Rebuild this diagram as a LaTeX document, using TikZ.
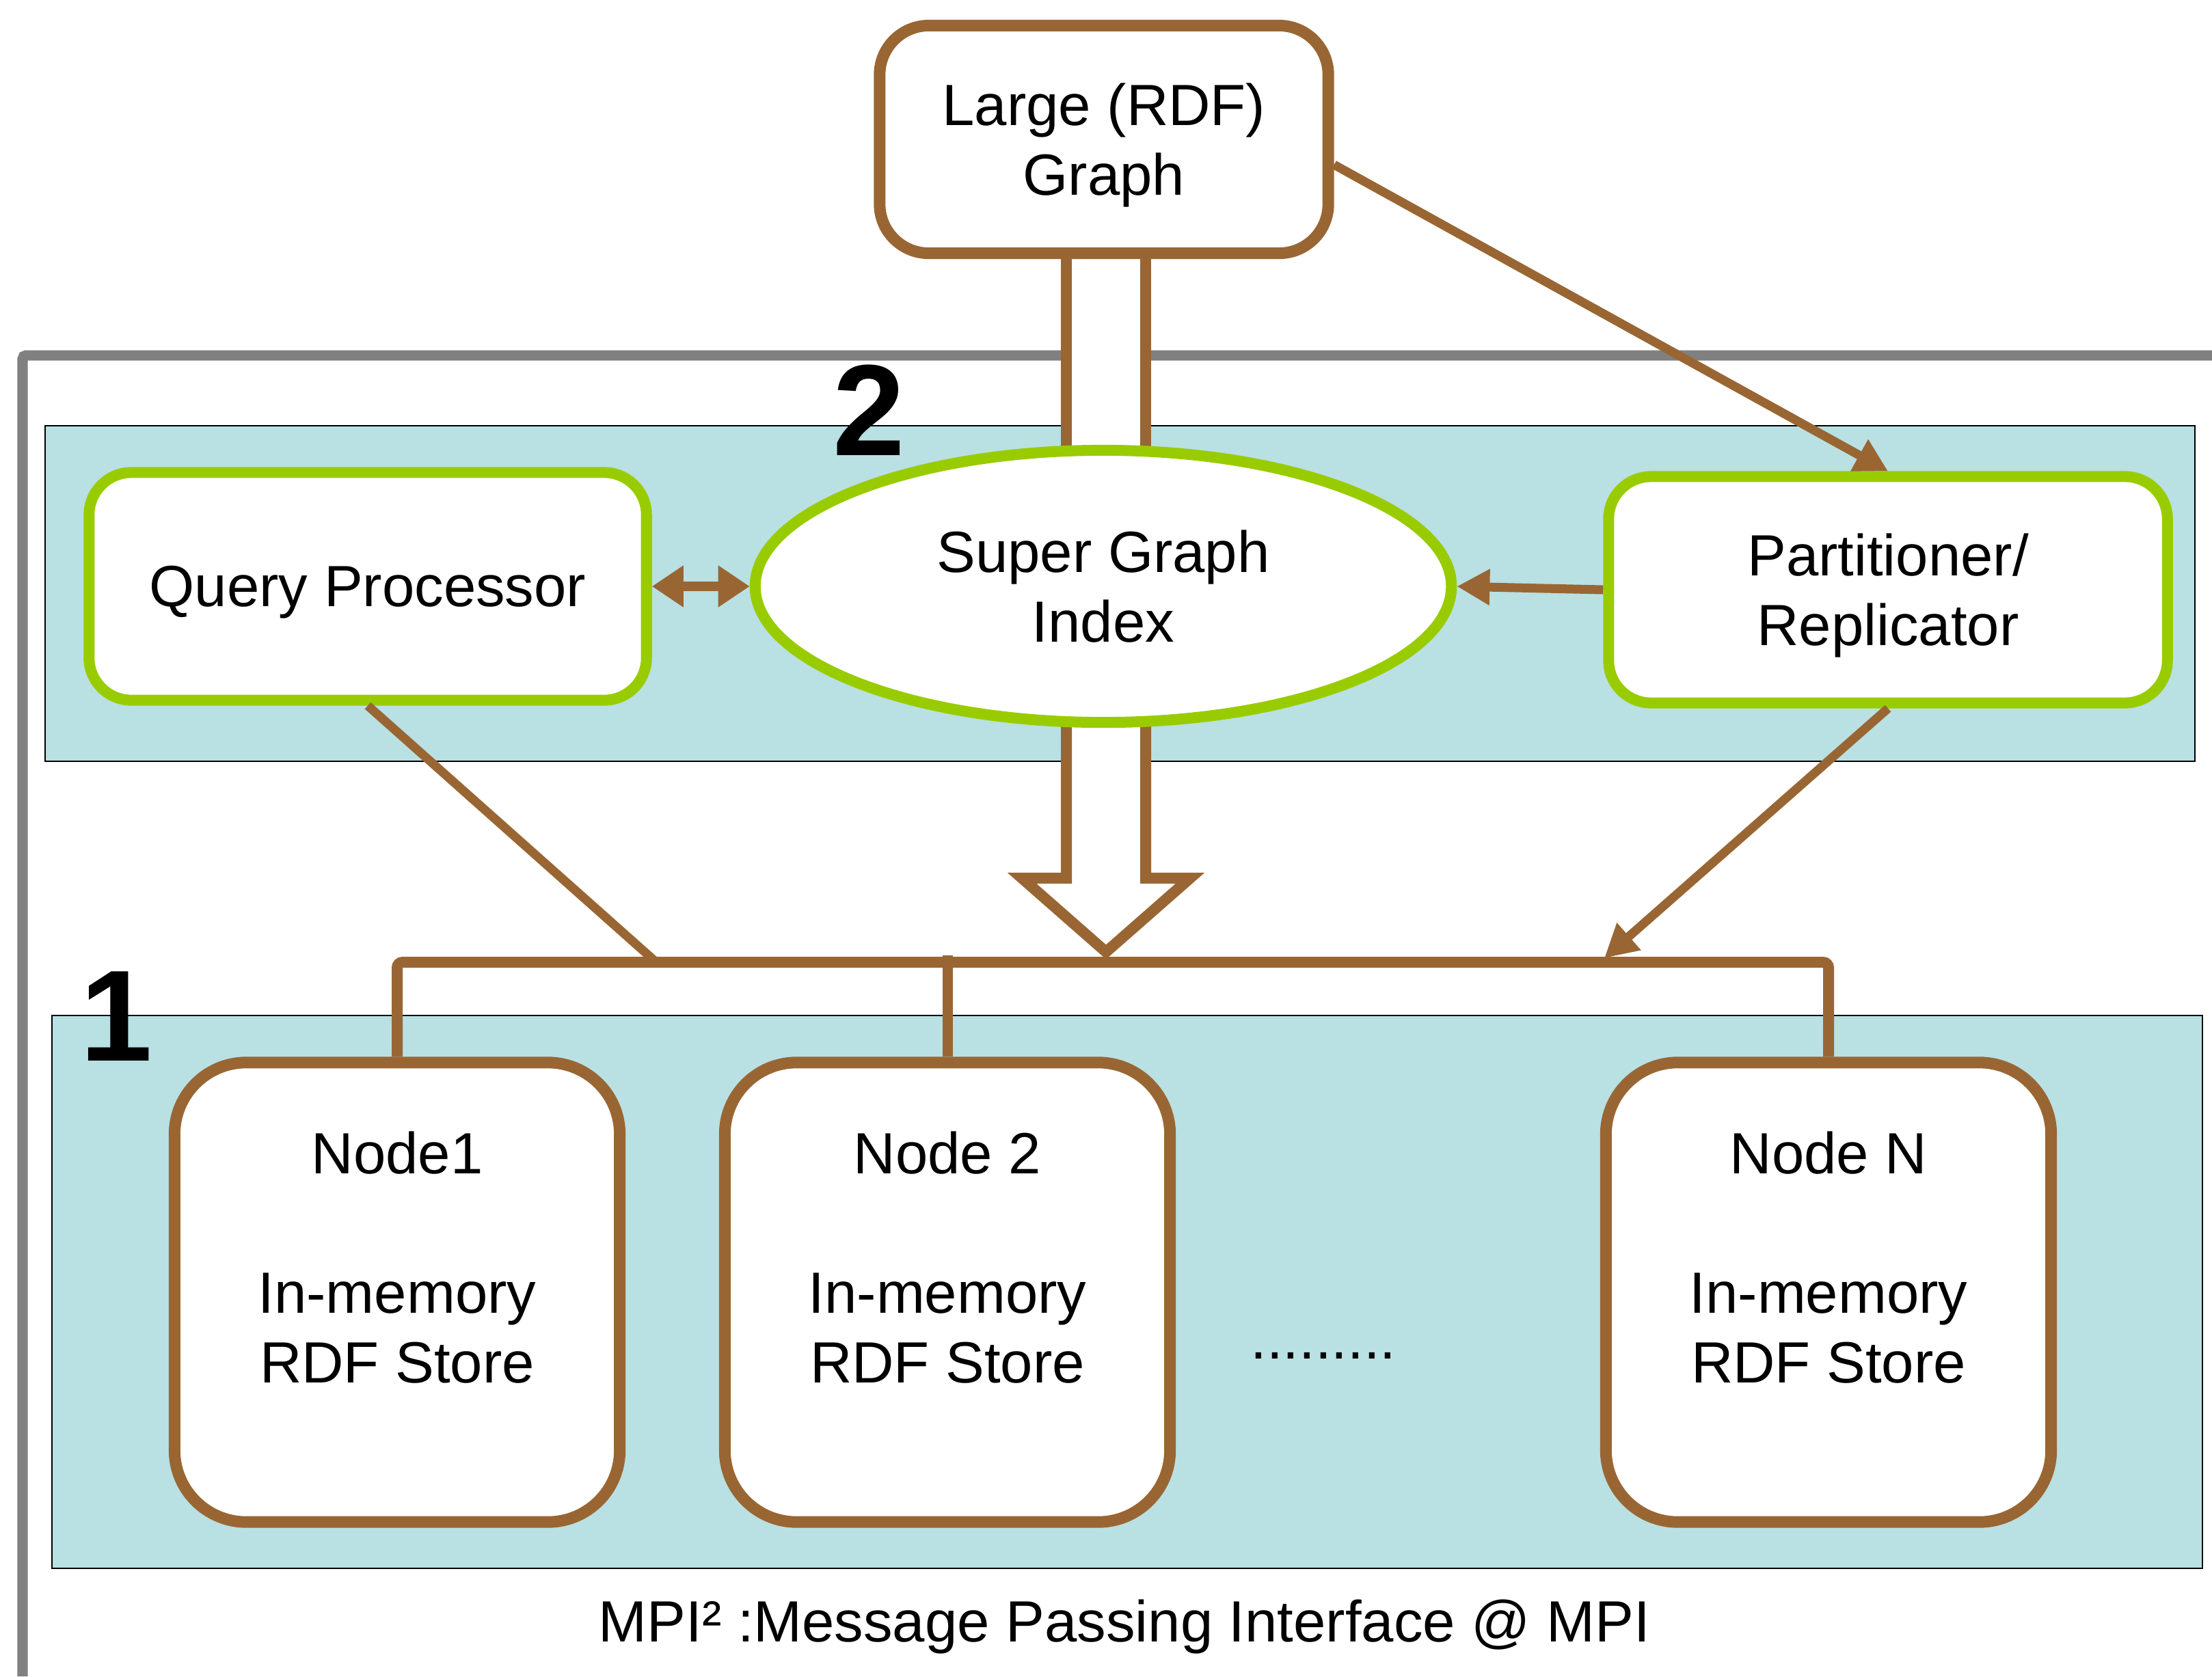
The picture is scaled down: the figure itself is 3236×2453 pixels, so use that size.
\documentclass[tikz,border=0pt]{standalone}
\usepackage{fontspec}
\setmainfont{Liberation Sans}
\usetikzlibrary{arrows.meta,shadows,calc,shapes.geometric}
\definecolor{brn}{HTML}{996633}
\definecolor{grn}{HTML}{99CC00}
\definecolor{cyn}{HTML}{B9E0E3}
\definecolor{frm}{HTML}{808080}
\pgfdeclarelayer{panel}
\pgfdeclarelayer{mid}
\pgfsetlayers{panel,mid,main}
\begin{document}
\begin{tikzpicture}[x=0.01cm,y=-0.01cm,
 txt/.style={font=\fontsize{24.2pt}{29pt}\selectfont, align=center},
 shad/.style={drop shadow={shadow xshift=0.05cm,shadow yshift=-0.06cm,opacity=0.3,fill=black!70}},
 brownbox/.style={txt, draw=brn, line width=0.17cm, fill=white, rounded corners=0.72cm, inner sep=0pt, shad},
 greenbox/.style={txt, draw=grn, line width=0.16cm, fill=white, rounded corners=0.62cm, inner sep=0pt, shad},
 conn/.style={draw=brn, line width=0.13cm},
 tip/.style={-{Triangle[length=0.48cm,width=0.5cm]}},
 dtip/.style={{Triangle[length=0.46cm,width=0.58cm]}-{Triangle[length=0.46cm,width=0.58cm]}},
 hollow/.style={draw=brn, fill=white, line width=0.16cm, miter limit=10},
 panelbox/.style={fill=cyn, draw=black, line width=0.02cm},
 num/.style={font=\fontsize{54pt}{60pt}\selectfont\bfseries, anchor=base, inner sep=0pt}
]
\useasboundingbox (0,0) rectangle (3236,2453);

\begin{pgfonlayer}{panel}
  \fill[white] (0,0) rectangle (3236,2453);
  \draw[frm, line width=0.15cm, rounded corners=0.05cm] (33,2453) -- (33,520) -- (3236,520);
  \draw[panelbox] (66,623) rectangle (3211,1114);
  \draw[panelbox] (76,1486) rectangle (3222,2295);
\end{pgfonlayer}

% nodes
\node[brownbox, text depth=0pt, minimum width=6.56cm, minimum height=3.33cm] (LG) at (1615,204) {Large (RDF)\\Graph};
\node[greenbox, text depth=0pt, minimum width=8.15cm, minimum height=3.33cm] (QP) at (538,858) {Query Processor};
\node[greenbox, text depth=0pt, minimum width=8.17cm, minimum height=3.31cm] (PR) at (2762,863) {Partitioner/\\Replicator};
\node[txt, ellipse, draw=grn, line width=0.16cm, fill=white, minimum width=10.18cm, minimum height=3.98cm, inner sep=0pt, shad] (SGI) at (1614,858) {Super Graph\\Index};

\node[brownbox, rounded corners=1.05cm, minimum width=6.51cm, minimum height=6.72cm] (N1) at (581,1891) {Node1\\\mbox{}\\In-memory\\RDF Store\\\mbox{}};
\node[brownbox, rounded corners=1.05cm, minimum width=6.51cm, minimum height=6.72cm] (N2) at (1386,1891) {Node 2\\\mbox{}\\In-memory\\RDF Store\\\mbox{}};
\node[brownbox, rounded corners=1.05cm, minimum width=6.51cm, minimum height=6.72cm] (NN) at (2675,1891) {Node N\\\mbox{}\\In-memory\\RDF Store\\\mbox{}};

\node[txt, anchor=base] (dots) at (1936,1988) {.........};
\node[txt, anchor=base] (cap) at (1645,2402) {MPI² :Message Passing Interface @ MPI};
\node[num] (one) at (170,1552) {1};
\node[num] (two) at (1271,666) {2};

% coordinates
\coordinate (bus) at (0,1408);
\coordinate (bustop) at (0,1398);
\coordinate (qpend) at (960,1408);
\coordinate (prend) at (2347,1402);

% hollow arrows (beneath nodes)
\begin{pgfonlayer}{mid}
  \fill[white] (1560,370) rectangle (1676,720);
  \draw[brn, line width=0.16cm] (1560,370) -- (1560,720) (1676,370) -- (1676,720);
  \draw[hollow] (1560,1000) -- (1560,1285) -- (1495,1285) -- (1618,1393) -- (1741,1285) -- (1676,1285) -- (1676,1000);
\end{pgfonlayer}

% connectors
\draw[conn, line width=0.14cm, dtip] (QP.east) -- (SGI.west);
\draw[conn, tip] (PR.west) -- (SGI.east);
\draw[conn, tip] ([yshift=-0.37cm]LG.east) -- (PR.north);
\draw[conn] (QP.south) -- (qpend);
\draw[conn, tip] (PR.south) -- (prend);
\draw[conn, line width=0.16cm, rounded corners=0.08cm] (N1.north) -- (N1.north |- bus) -- (NN.north |- bus) -- (NN.north);
\draw[conn, line width=0.15cm] (N2.north) -- (N2.north |- bustop);
\end{tikzpicture}
\end{document}
